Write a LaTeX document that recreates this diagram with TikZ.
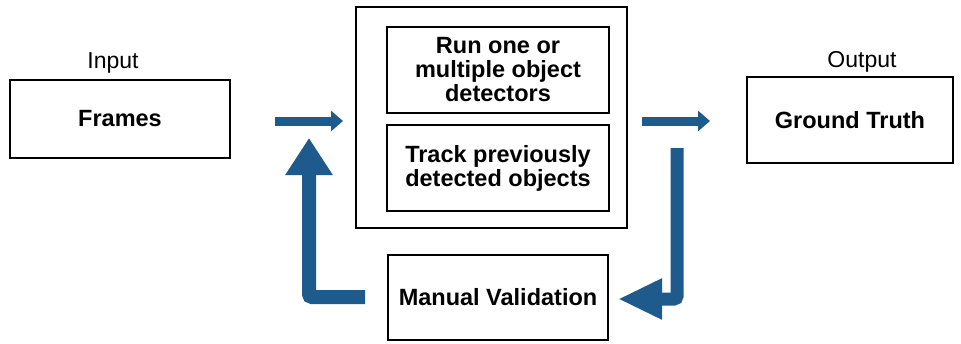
\documentclass[tikz,border=0pt]{standalone}
\usepackage{fontspec}
\setmainfont{Liberation Sans}
\usetikzlibrary{arrows.meta}
\definecolor{arrowblue}{HTML}{1F5A8C}
\begin{document}
\begin{tikzpicture}[x=1pt,y=-1pt,
  box/.style={draw=black,line width=2pt,rectangle,inner sep=0pt,align=center,
    font=\fontsize{23.5}{24}\selectfont\bfseries},
  lbl/.style={font=\fontsize{23}{24}\selectfont},
  thinarrow/.style={draw=arrowblue,line width=9pt,-{Triangle[length=12pt,width=20pt]}},
  bigarrow/.style={draw=arrowblue,line width=14pt,rounded corners=3pt}]
\useasboundingbox[fill=white] (0,0) rectangle (961,343);
% boxes
\node[box,minimum width=220pt,minimum height=78pt] (frames) at (120,119) {Frames};
\node[lbl] (input) at (113,63) {Input};
\node[box,minimum width=271pt,minimum height=221pt] (outer) at (491.5,117.5) {};
\node[box,minimum width=222pt,minimum height=86pt] (det) at (498,70) {Run one or\\multiple object\\detectors};
\node[box,minimum width=222pt,minimum height=86pt] (track) at (498,168) {Track previously\\detected objects};
\node[box,minimum width=206pt,minimum height=86pt] (gt) at (850,120) {Ground Truth};
\node[lbl] (output) at (862,62) {Output};
\node[box,minimum width=220pt,minimum height=85pt] (mv) at (498,297.5) {Manual Validation};
% arrow anchors
\coordinate (a1s) at (275,121);
\coordinate (a1e) at (343,121);
\coordinate (a2s) at (642,121);
\coordinate (a2e) at (710,121);
\coordinate (l1s) at (365,297);
\coordinate (l1e) at (309,138);
\coordinate (l2s) at (677,148);
\coordinate (l2e) at (618,299);
% arrows
\draw[thinarrow] (a1s) -- (a1e);
\draw[thinarrow] (a2s) -- (a2e);
\draw[bigarrow,-{Triangle[length=37pt,width=45pt]}] (l1s) -| (l1e);
\draw[bigarrow,line width=13pt,-{Triangle[length=44pt,width=38pt]}] (l2s) |- (l2e);
\end{tikzpicture}
\end{document}
